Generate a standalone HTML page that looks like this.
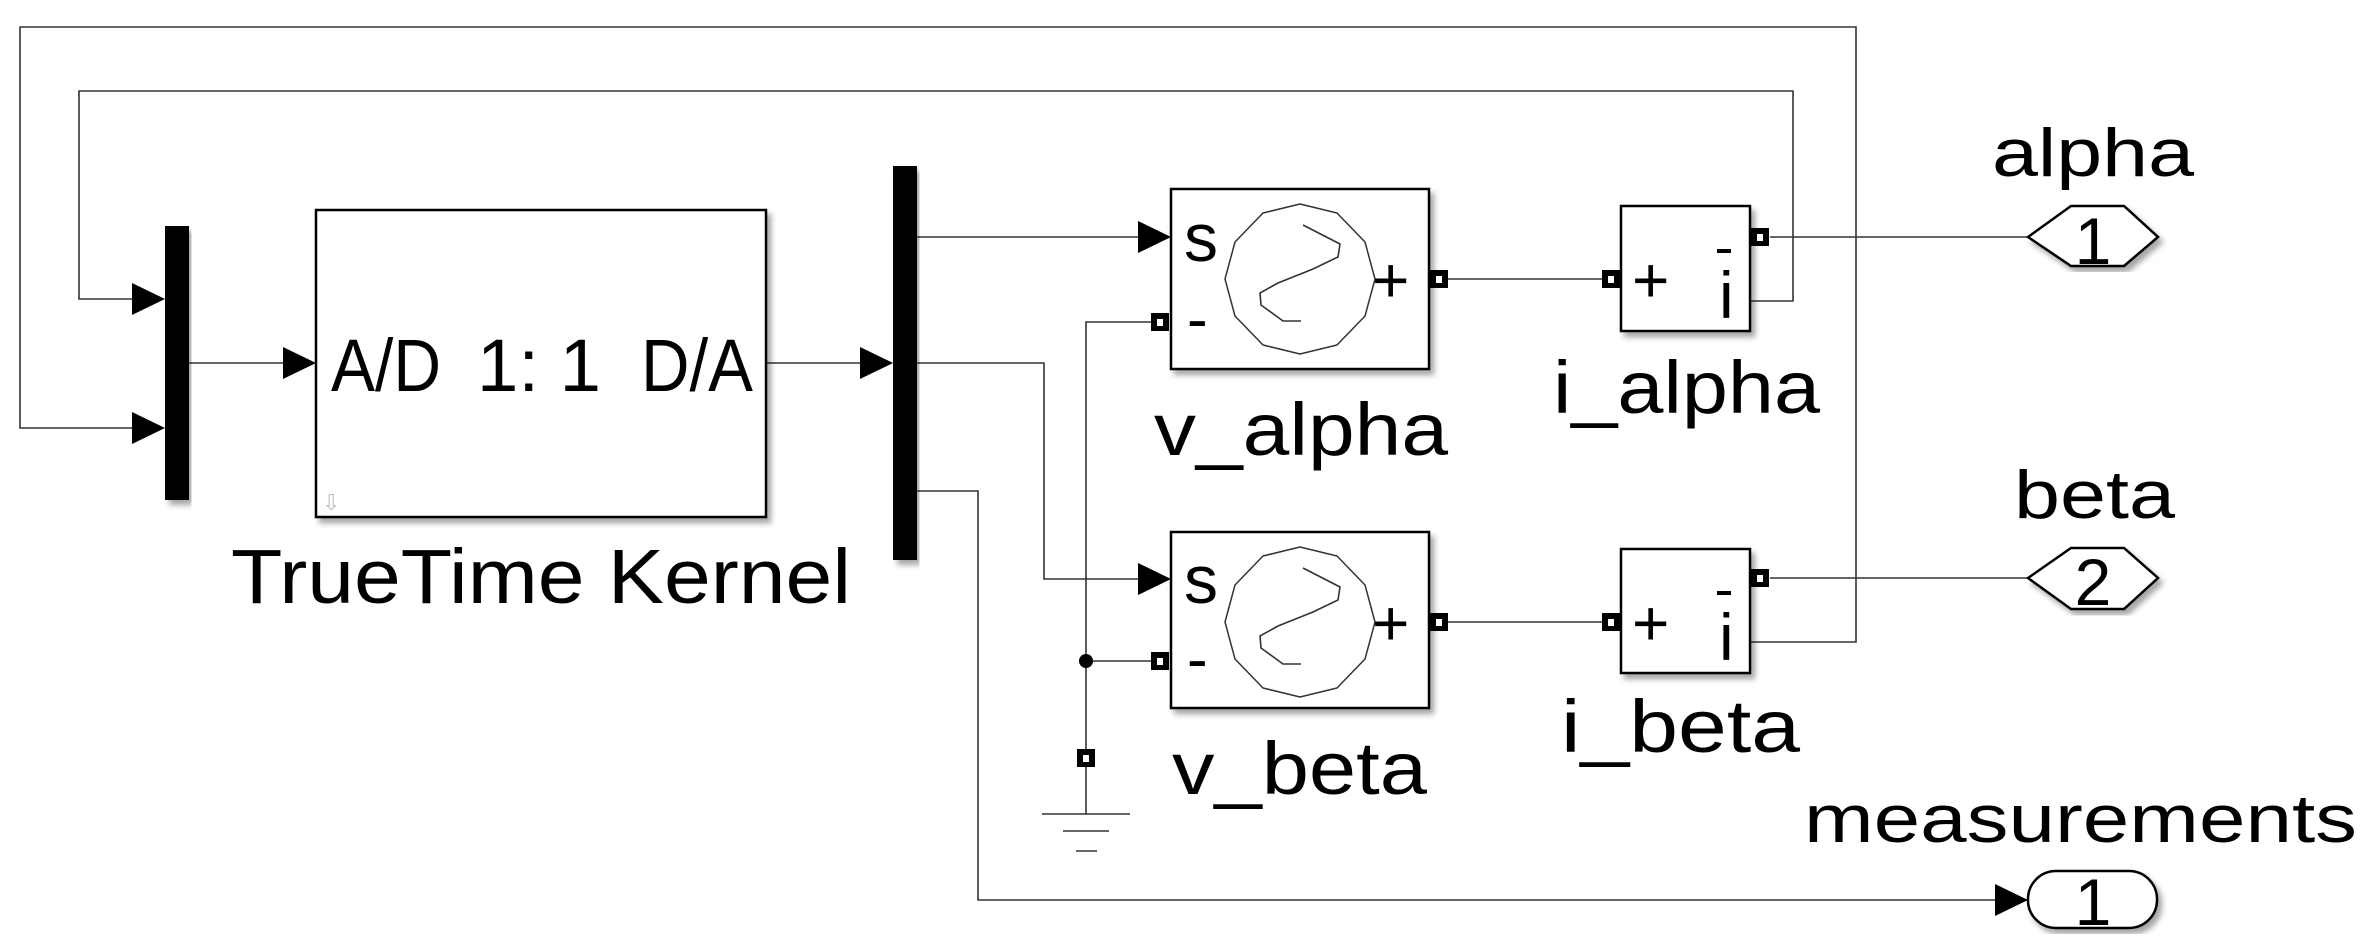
<!DOCTYPE html>
<html><head><meta charset="utf-8"><style>
html,body{margin:0;padding:0;background:#fff;}
svg{display:block;}
text{font-family:"Liberation Sans",sans-serif;fill:#000;}
</style></head><body>
<svg width="2372" height="946" viewBox="0 0 2372 946" xmlns="http://www.w3.org/2000/svg">
<defs>
<filter id="sh" x="-5%" y="-5%" width="115%" height="115%"><feDropShadow dx="4" dy="5" stdDeviation="3" flood-color="#000" flood-opacity="0.35"/></filter>
<g id="port"><rect x="-9" y="-9" width="18" height="18" fill="#000"/><rect x="-3" y="-3" width="6" height="7" fill="#fff"/></g>
<g id="arr"><polygon points="0,0 -33,-16 -33,16" fill="#000"/></g>
<g id="sine">
<polygon points="0,-75 37,-66 65,-37 75,0 65,37 37,66 0,75 -37,66 -65,37 -75,0 -65,-37 -37,-66" fill="none" stroke="#333" stroke-width="1.5" stroke-linejoin="round"/>
<polyline points="3,-54 40,-35 38,-22 13,-10 -22,4 -40,14 -39,26 -17,42 1,42" fill="none" stroke="#333" stroke-width="1.6"/>
</g>
</defs>

<g stroke="#333" stroke-width="1.6" fill="none">
<polyline points="1750,642 1856,642 1856,27 20,27 20,428 140,428"/>
<polyline points="1750,301 1793,301 1793,91 79,91 79,299 140,299"/>
<line x1="189" y1="363" x2="290" y2="363"/>
<line x1="766" y1="363" x2="868" y2="363"/>
<line x1="917" y1="237" x2="1145" y2="237"/>
<polyline points="917,363 1044,363 1044,579 1145,579"/>
<polyline points="917,491 978,491 978,900 2000,900"/>
<polyline points="1151,322 1086,322 1086,758"/>
<line x1="1086" y1="661" x2="1151" y2="661"/>
<line x1="1086" y1="767" x2="1086" y2="814"/>
<line x1="1042" y1="814" x2="1130" y2="814"/>
<line x1="1063" y1="831" x2="1109" y2="831"/>
<line x1="1076" y1="851" x2="1097" y2="851"/>
<line x1="1448" y1="279" x2="1602" y2="279"/>
<line x1="1448" y1="622" x2="1602" y2="622"/>
<line x1="1770" y1="237" x2="2028" y2="237"/>
<line x1="1770" y1="578" x2="2028" y2="578"/>
</g>
<circle cx="1086" cy="661" r="7" fill="#000"/>
<use href="#port" x="1086" y="758"/>

<use href="#arr" x="165" y="299"/>
<use href="#arr" x="165" y="428"/>
<use href="#arr" x="316" y="363"/>
<use href="#arr" x="893" y="363"/>
<use href="#arr" x="1171" y="237"/>
<use href="#arr" x="1171" y="579"/>
<use href="#arr" x="2028" y="900"/>

<rect x="165" y="226" width="24" height="274" fill="#000" filter="url(#sh)"/>
<rect x="893" y="166" width="24" height="394" fill="#000" filter="url(#sh)"/>

<rect x="316" y="210" width="450" height="307" fill="#fff" stroke="#000" stroke-width="2.5" filter="url(#sh)"/>
<text x="331" y="391" font-size="74" textLength="110" lengthAdjust="spacingAndGlyphs">A/D</text>
<text x="477" y="391" font-size="74" textLength="124" lengthAdjust="spacingAndGlyphs">1: 1</text>
<text x="641" y="391" font-size="74" textLength="112" lengthAdjust="spacingAndGlyphs">D/A</text>
<text x="322" y="510" font-size="22" style="fill:#bbb">⇩</text>
<text x="231" y="603" font-size="77" textLength="620" lengthAdjust="spacingAndGlyphs">TrueTime Kernel</text>

<rect x="1171" y="189" width="258" height="180" fill="#fff" stroke="#000" stroke-width="2.5" filter="url(#sh)"/>
<use href="#sine" x="1300" y="279"/>
<text x="1184" y="261" font-size="68">s</text>
<text x="1187" y="340" font-size="62">-</text>
<text x="1372" y="302" font-size="64">+</text>
<use href="#port" x="1160" y="322"/>
<use href="#port" x="1439" y="279"/>
<text x="1154" y="455" font-size="74" textLength="294" lengthAdjust="spacingAndGlyphs">v_alpha</text>

<rect x="1171" y="532" width="258" height="176" fill="#fff" stroke="#000" stroke-width="2.5" filter="url(#sh)"/>
<use href="#sine" x="1300" y="622"/>
<text x="1184" y="603" font-size="68">s</text>
<text x="1187" y="680" font-size="62">-</text>
<text x="1372" y="645" font-size="64">+</text>
<use href="#port" x="1160" y="661"/>
<use href="#port" x="1439" y="622"/>
<text x="1172" y="794" font-size="74" textLength="255" lengthAdjust="spacingAndGlyphs">v_beta</text>

<rect x="1621" y="206" width="129" height="125" fill="#fff" stroke="#000" stroke-width="2.5" filter="url(#sh)"/>
<text x="1632" y="302" font-size="64">+</text>
<rect x="1717" y="249" width="14" height="4" fill="#000"/>
<text x="1719" y="318" font-size="66">i</text>
<use href="#port" x="1611" y="279"/>
<use href="#port" x="1760" y="237"/>
<text x="1553" y="413" font-size="74" textLength="267" lengthAdjust="spacingAndGlyphs">i_alpha</text>

<rect x="1621" y="549" width="129" height="124" fill="#fff" stroke="#000" stroke-width="2.5" filter="url(#sh)"/>
<text x="1632" y="645" font-size="64">+</text>
<rect x="1717" y="591" width="14" height="4" fill="#000"/>
<text x="1719" y="660" font-size="66">i</text>
<use href="#port" x="1611" y="622"/>
<use href="#port" x="1760" y="578"/>
<text x="1561" y="752" font-size="74" textLength="239" lengthAdjust="spacingAndGlyphs">i_beta</text>

<polygon points="2028,237 2071,206 2124,206 2158,237 2124,266 2071,266" fill="#fff" stroke="#000" stroke-width="2.5" filter="url(#sh)"/>
<text x="2093" y="264" font-size="66" text-anchor="middle">1</text>
<text x="1992" y="176" font-size="68" textLength="202" lengthAdjust="spacingAndGlyphs">alpha</text>

<polygon points="2028,578 2071,548 2124,548 2158,578 2124,609 2071,609" fill="#fff" stroke="#000" stroke-width="2.5" filter="url(#sh)"/>
<text x="2093" y="605" font-size="66" text-anchor="middle">2</text>
<text x="2014" y="518" font-size="68" textLength="161" lengthAdjust="spacingAndGlyphs">beta</text>

<rect x="2028" y="871" width="129" height="57" rx="28" fill="#fff" stroke="#000" stroke-width="2.5" filter="url(#sh)"/>
<text x="2093" y="925" font-size="66" text-anchor="middle">1</text>
<text x="1804" y="842" font-size="68" textLength="553" lengthAdjust="spacingAndGlyphs">measurements</text>
</svg>
</body></html>
